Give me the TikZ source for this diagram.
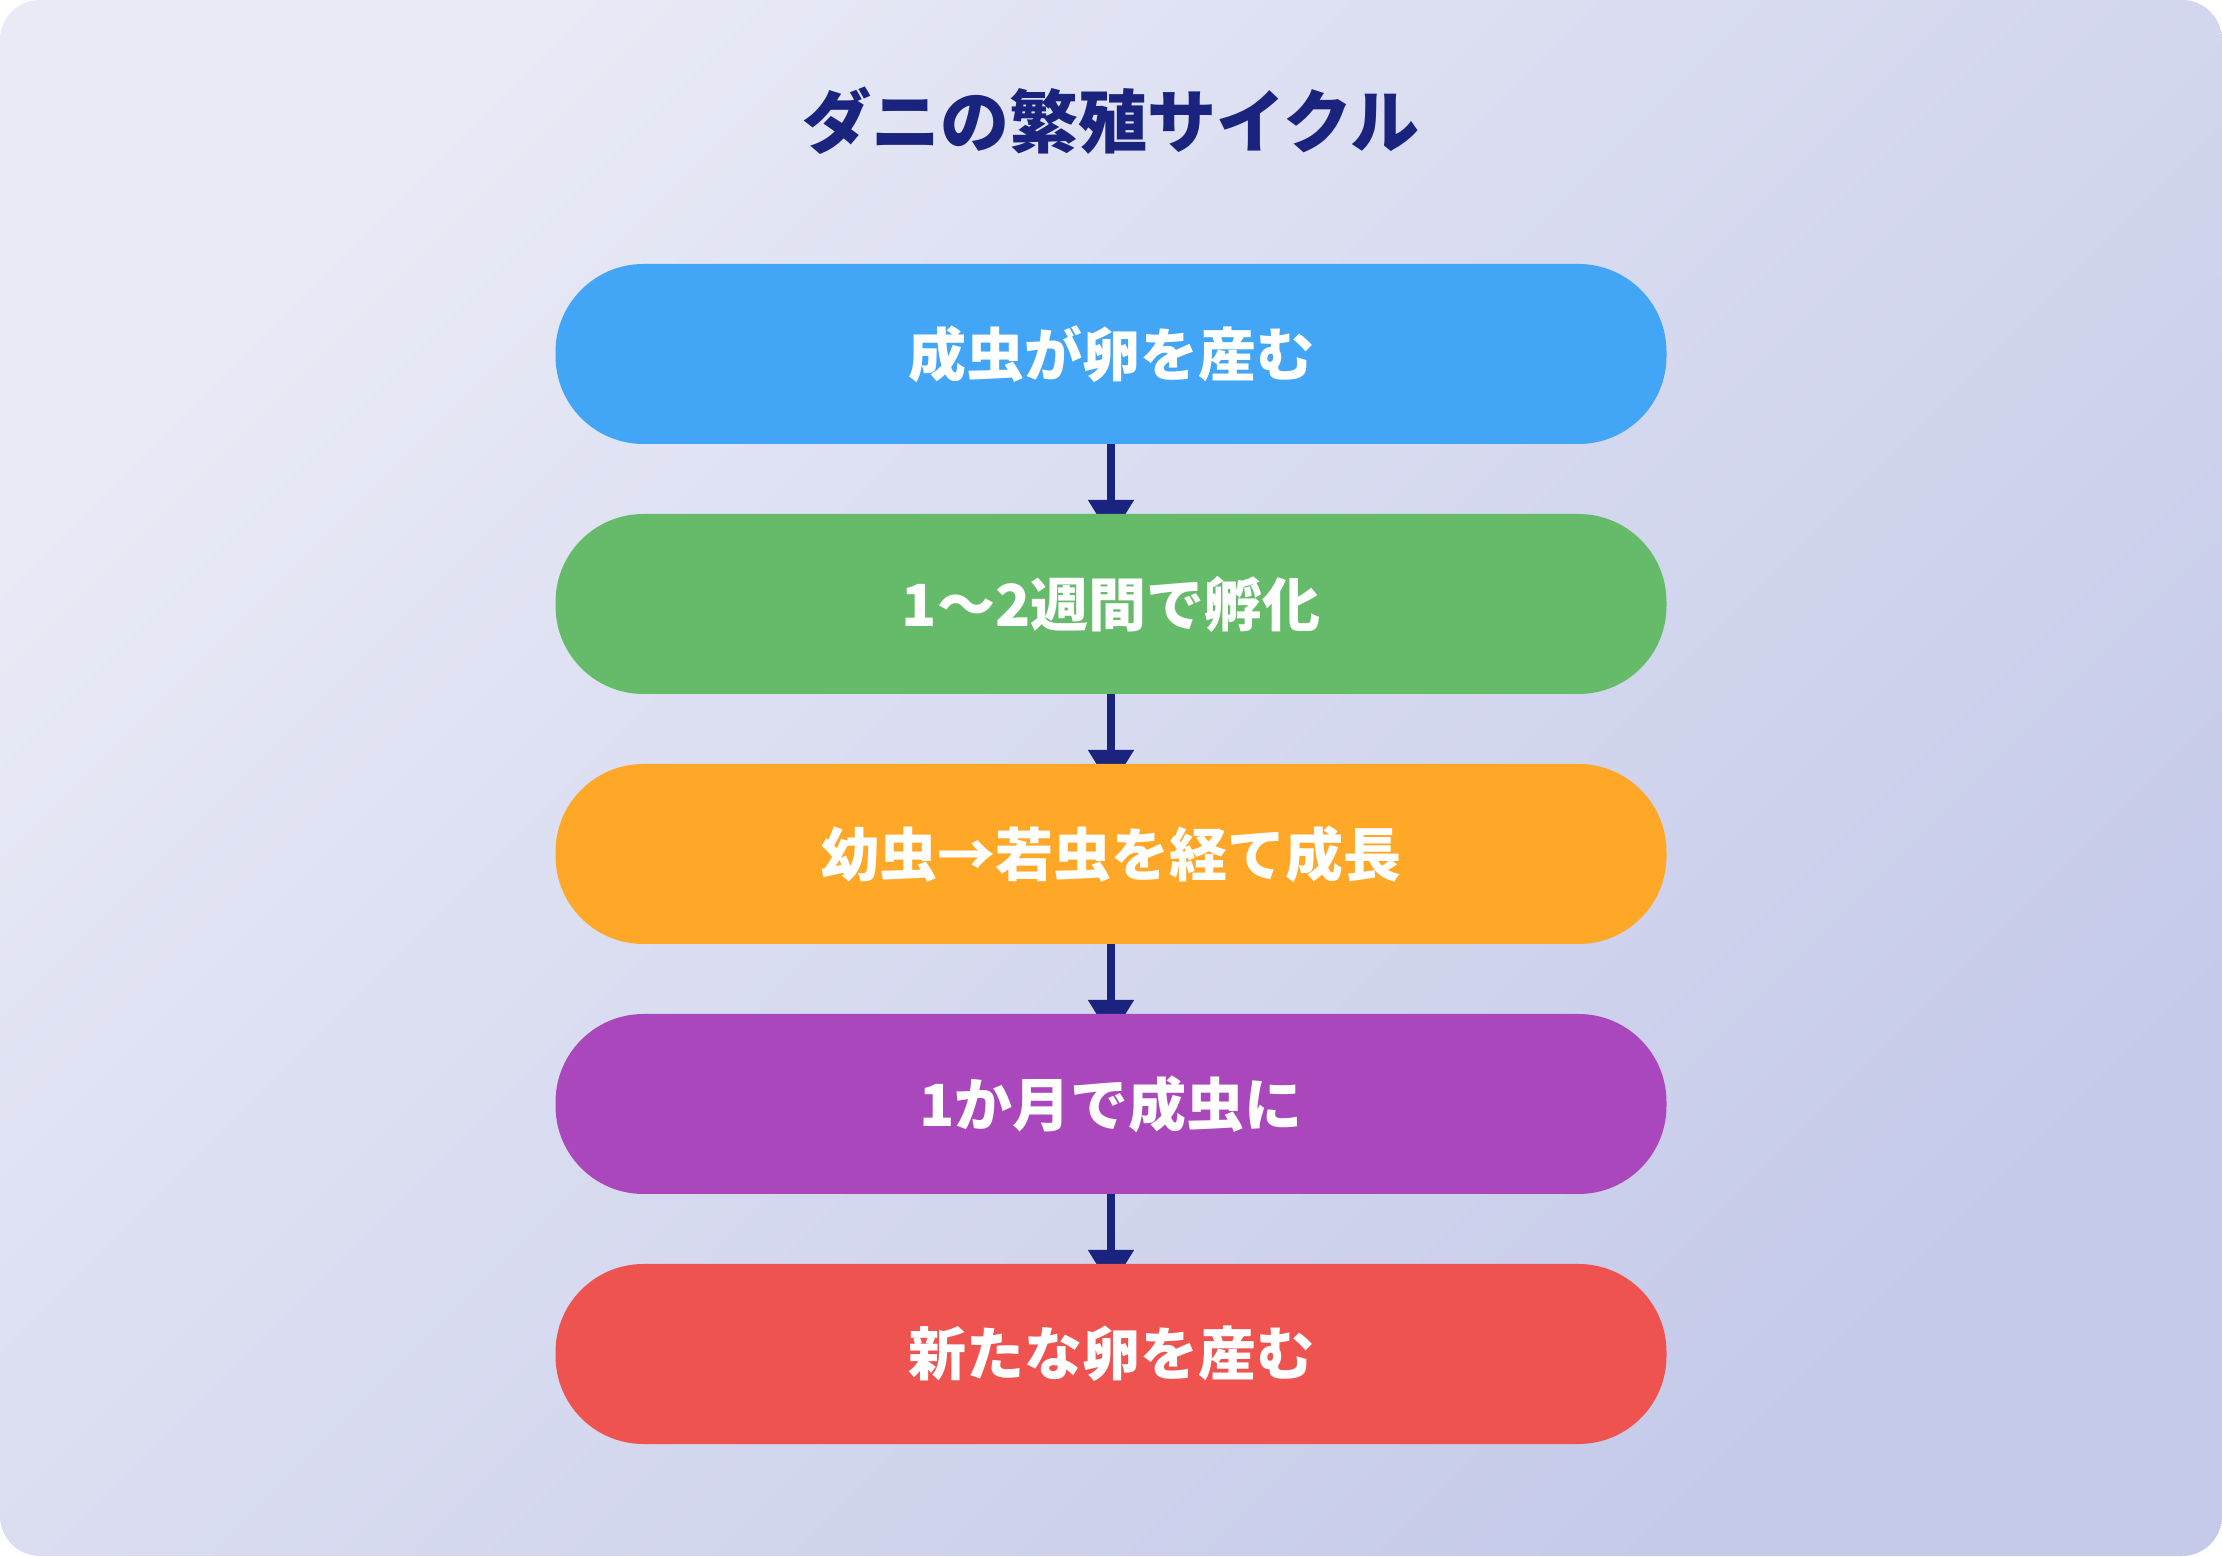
\documentclass[tikz,border=0pt]{standalone}
\usepackage{fontspec}
\newfontfamily\cjk{Noto Sans CJK JP}
\usetikzlibrary{arrows.meta}
\definecolor{bgA}{HTML}{E8EAF6}
\definecolor{bgB}{HTML}{C5CAE9}
\definecolor{navy}{HTML}{1A237E}
\definecolor{cBlue}{HTML}{42A5F5}
\definecolor{cGreen}{HTML}{66BB6A}
\definecolor{cOrange}{HTML}{FFA726}
\definecolor{cPurple}{HTML}{AB47BC}
\definecolor{cRed}{HTML}{EF5350}
\pgfdeclarelayer{bg}
\pgfdeclarelayer{arr}
\pgfsetlayers{bg,arr,main}
\tikzset{
  stage/.style={fill=#1, draw=none, rounded corners=88pt, minimum width=1111pt, minimum height=180pt,
    inner sep=0pt, text=white, font=\cjk\bfseries\fontsize{58pt}{60pt}\selectfont},
  flowarrow/.style={draw=navy, line width=8.5pt, -{Triangle[width=44pt,length=38pt]}, shorten >=-24pt},
}
\begin{document}
\begin{tikzpicture}[x=1pt,y=1pt]
\useasboundingbox (0,0) rectangle (2222,1556);
\begin{pgfonlayer}{bg}
\shade[top color=bgA, bottom color=bgB, shading angle=45, rounded corners=40pt] (0,0) rectangle (2222,1556);
\end{pgfonlayer}
\node[text=navy, font=\cjk\bfseries\fontsize{69pt}{71pt}\selectfont] (title) at (1111,1435) {ダニの繁殖サイクル};
\node[stage=cBlue] (s1) at (1111,1202) {成虫が卵を産む};
\node[stage=cGreen] (s2) at (1111,952) {1～2週間で孵化};
\node[stage=cOrange] (s3) at (1111,702) {幼虫→若虫を経て成長};
\node[stage=cPurple] (s4) at (1111,452) {1か月で成虫に};
\node[stage=cRed] (s5) at (1111,202) {新たな卵を産む};
\begin{pgfonlayer}{arr}
\draw[flowarrow] (s1.south) -- (s2.north);
\draw[flowarrow] (s2.south) -- (s3.north);
\draw[flowarrow] (s3.south) -- (s4.north);
\draw[flowarrow] (s4.south) -- (s5.north);
\end{pgfonlayer}
\end{tikzpicture}
\end{document}
